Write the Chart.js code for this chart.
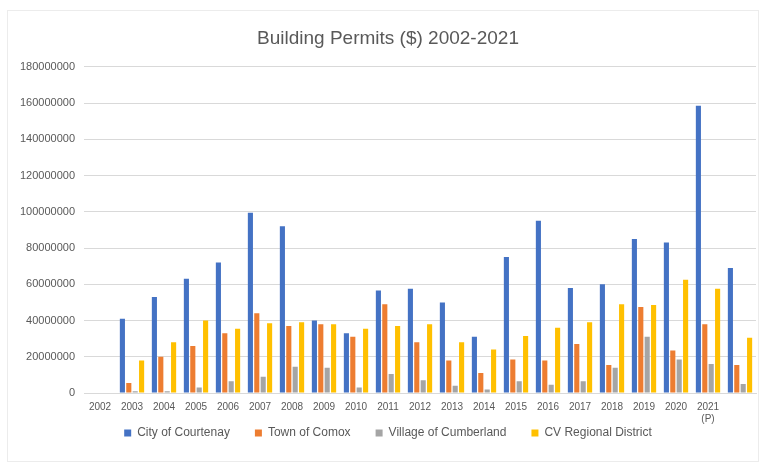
<!DOCTYPE html>
<html>
<head>
<meta charset="utf-8">
<script src="https://cdn.jsdelivr.net/npm/chart.js@4/dist/chart.umd.min.js"></script>
<style>
  html, body { margin: 0; padding: 0; background: #fff; }
  #wrap { position: relative; width: 760px; height: 467px; }
  #frame { position: absolute; left: 7px; top: 10px; width: 750px; height: 450px;
           border: 1px solid #ececec; pointer-events: none; }
</style>
</head>
<body>
<div id="wrap">
  <canvas id="permitsChart" width="760" height="467"></canvas>
  <div id="frame"></div>
</div>
<script>
// categories (last group is unlabelled in the original)
var years = ['2002', '2003', '2004', '2005', '2006', '2007', '2008', '2009', '2010', '2011',
             '2012', '2013', '2014', '2015', '2016', '2017', '2018', '2019', '2020', ['2021', '(P)'], ''];

// building permit values ($)
var courtenay  = [null, 41000000, 53000000, 63000000, 72000000, 99500000, 92000000, 40000000, 33000000, 56500000,
                  57500000, 50000000, 31000000, 75000000, 95000000, 58000000, 60000000, 85000000, 83000000, 158500000, 69000000];
var comox      = [null, 5500000, 20000000, 26000000, 33000000, 44000000, 37000000, 38000000, 31000000, 49000000,
                  28000000, 18000000, 11000000, 18500000, 18000000, 27000000, 15500000, 47500000, 23500000, 38000000, 15500000];
var cumberland = [null, 1000000, 1000000, 3000000, 6500000, 9000000, 14500000, 14000000, 3000000, 10500000,
                  7000000, 4000000, 2000000, 6500000, 4500000, 6500000, 14000000, 31000000, 18500000, 16000000, 5000000];
var cvrd       = [null, 18000000, 28000000, 40000000, 35500000, 38500000, 39000000, 38000000, 35500000, 37000000,
                  38000000, 28000000, 24000000, 31500000, 36000000, 39000000, 49000000, 48500000, 62500000, 57500000, 30500000];

var yTicks = [0, 20000000, 40000000, 60000000, 80000000, 100000000, 120000000, 140000000, 160000000, 180000000];

var ctx = document.getElementById('permitsChart').getContext('2d')

// axis boxes are kept thin/narrow, so widen their label clip after layout
var labelRoom = {
  id: 'labelRoom',
  afterLayout: function (chart) {
    var x = chart.scales.x
    x.bottom = x.top + 40
    chart.scales.y.left = 0
  }
}

var permitsData = {
  labels: years,
  datasets: [
    { label: 'City of Courtenay',     data: courtenay,  backgroundColor: '#4472C4' },
    { label: 'Town of Comox',         data: comox,      backgroundColor: '#ED7D31' },
    { label: 'Village of Cumberland', data: cumberland, backgroundColor: '#A5A5A5' },
    { label: 'CV Regional District',  data: cvrd,       backgroundColor: '#FFC000' }
  ]
}

var permitsOptions = {
  responsive: false,
  animation: false,
  maintainAspectRatio: false,
  layout: { padding: { left: 20, right: 4, top: 0, bottom: 18 } },
  datasets: { bar: { categoryPercentage: 0.8, barPercentage: 0.8 } },
  plugins: {
    title: {
      display: true,
      text: 'Building Permits ($) 2002-2021',
      color: '#595959',
      font: { family: 'Liberation Sans', size: 19, weight: 'normal' },
      padding: { top: 27, bottom: 17 }
    },
    legend: {
      position: 'bottom',
      labels: {
        color: '#595959',
        font: { family: 'Liberation Sans', size: 12 },
        boxWidth: 7,
        boxHeight: 7,
        padding: 25
      }
    },
    tooltip: { enabled: false }
  },
  scales: {
    x: {
      grid: { display: false, drawTicks: false },
      border: { display: true, color: '#d9d9d9' },
      ticks: {
        color: '#595959',
        font: { family: 'Liberation Sans', size: 10 },
        padding: 8,
        maxRotation: 0,
        autoSkip: false
      },
      afterFit: function (scale) { scale.height = 9 }
    },
    y: {
      min: 0,
      max: 180000000,
      grid: { color: '#d9d9d9', drawTicks: false },
      border: { display: false },
      afterBuildTicks: function (scale) {
        scale.ticks = yTicks.map(function (v) { return { value: v } })
      },
      ticks: {
        color: '#595959',
        font: { family: 'Liberation Sans', size: 11 },
        padding: 9,
        callback: function (v) { return String(v) }
      },
      afterFit: function (scale) { scale.width = 64 }
    }
  }
}

var permitsChart = new Chart(ctx, {
  type: 'bar',
  data: permitsData,
  options: permitsOptions,
  plugins: [labelRoom]
})
</script>
</body>
</html>
